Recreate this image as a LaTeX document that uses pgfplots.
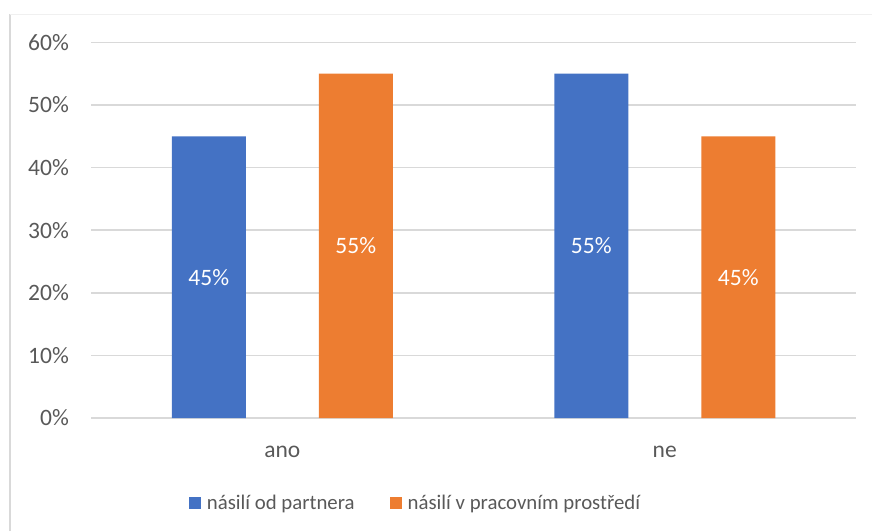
\documentclass[border=0pt]{standalone}
\usepackage{pgfplots}
\pgfplotsset{compat=1.18}
\usepackage{fontspec}
\setmainfont{Carlito}
\definecolor{cblue}{HTML}{4472C4}
\definecolor{corange}{HTML}{ED7D31}
\definecolor{ctext}{HTML}{595959}
\definecolor{cgrid}{HTML}{D9D9D9}
\begin{document}
\begin{tikzpicture}[x=1pt,y=1pt]
\path[use as bounding box] (0,0) rectangle (872,531);
\draw[cgrid, line width=2pt] (10,0) -- (10,516.5);
\draw[black!6, line width=1pt] (10,516.5) -- (872,516.5);
\begin{axis}[
  at={(91pt,113pt)}, anchor=south west,
  scale only axis, width=765pt, height=375.6pt,
  xmin=-0.5, xmax=1.5, ymin=0, ymax=60,
  axis line style={draw=none},
  major tick length=0pt,
  ymajorgrids, grid style={cgrid, line width=1.5pt},
  ytick={0,10,...,60},
  yticklabels={0\%,10\%,20\%,30\%,40\%,50\%,60\%},
  yticklabel style={anchor=east, inner sep=0pt, xshift=-22pt, font=\fontsize{23.5}{27}\selectfont, text=ctext},
  xtick={0,1}, xticklabels={ano,ne},
  xticklabel style={anchor=base, inner sep=0pt, yshift=-39pt, font=\fontsize{23.5}{27}\selectfont, text=ctext},
  /pgf/number format/assume math mode=true,
  legend style={draw=none, fill=none, at={(axis description cs:0.4203,0)}, anchor=center, yshift=-85pt, xshift=3pt,
    font=\fontsize{20.8}{24}\selectfont, text=ctext,
    /tikz/every odd column/.append style={column sep=4pt},
    /tikz/every even column/.append style={column sep=33pt}},
  legend columns=2,
  legend image code/.code={\fill[#1, draw=none] (0pt,-6pt) rectangle (12pt,6pt);},
  lbl/.style={
    visualization depends on={y \as \rawy},
    nodes near coords={\pgfmathprintnumber{\pgfplotspointmeta}\%},
    every node near coord/.append style={anchor=center, shift={(axis direction cs:0,-\rawy/2)}, xshift=#1, text=white, font=\fontsize{23.5}{27}\selectfont}},
]
\addplot[ybar, fill=cblue, draw=none, bar width=74pt, bar shift=-73.5pt, lbl=-73.5pt] coordinates {(0,45) (1,55)};
\addlegendentry{násilí od partnera}
\addplot[ybar, fill=corange, draw=none, bar width=74pt, bar shift=73.5pt, lbl=73.5pt] coordinates {(0,55) (1,45)};
\addlegendentry{násilí v pracovním prostředí}
\end{axis}
\end{tikzpicture}
\end{document}
